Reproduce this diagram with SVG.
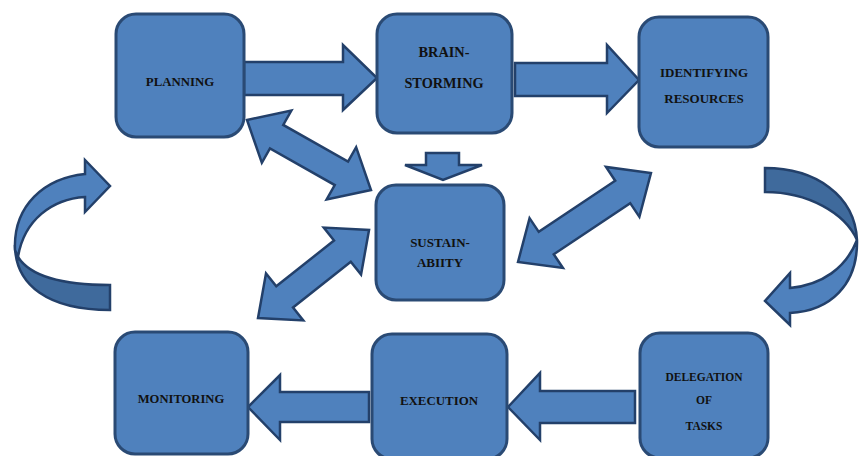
<svg xmlns="http://www.w3.org/2000/svg" width="859" height="456" viewBox="0 0 859 456">
<style>
.box{fill:#4f81bd;stroke:#2a4a74;stroke-width:3}
.arr{fill:#4f81bd;stroke:#23406a;stroke-width:2.5;stroke-linejoin:miter}
.dark{fill:#3f6a9c;stroke:#23406a;stroke-width:2.5}
text{font-family:"Liberation Serif","Times New Roman",serif;font-weight:bold;fill:#111;text-anchor:middle}
</style>
<defs>
<polygon id="dbl1" points="0,0 34,-30 34,-13.5 108.4,-13.5 108.4,-30 142.4,0 108.4,30 108.4,13.5 34,13.5 34,30"/>
<polygon id="dbl2" points="0,0 34,-30 34,-13.5 126,-13.5 126,-30 160,0 126,30 126,13.5 34,13.5 34,30"/>
<polygon id="dbl3" points="0,0 34,-30 34,-13.5 107.7,-13.5 107.7,-30 141.7,0 107.7,30 107.7,13.5 34,13.5 34,30"/>
</defs>
<rect width="859" height="456" fill="#fff"/>
<g id="connectors">
<polygon class="arr" points="244,62 343,62 343,45 377,78 343,110 343,95 244,95"/>
<polygon class="arr" points="515,63 607,63 607,45 639,80 607,113 607,96 515,96"/>
<polygon class="arr" points="426,153 459,153 459,165 482,165 443,180 405,165 426,165"/>
<polygon class="arr" points="635,391 540,391 540,373 508,407 540,440 540,423 635,423"/>
<polygon class="arr" points="369,392 280,392 280,375 248,407 280,440 280,422 369,422"/>
<use href="#dbl1" class="arr" transform="translate(247,120) rotate(29.45)"/>
<use href="#dbl2" class="arr" transform="translate(518,262) rotate(-33.8)"/>
<use href="#dbl3" class="arr" transform="translate(258,318) rotate(-38.4)"/>
<g id="curve-left">
<path class="dark" d="M18,257 C30,276 62,285 110,285 L110,310 C48,310 15,285 15,245 Z"/>
<path class="arr" d="M15,250 C13,205 45,178 85,174 L85,160 L110,186 L85,212 L85,197 C52,199 24,220 18,257 Z"/>
</g>
<g id="curve-right">
<path class="dark" d="M765,168 C815,168 855,195 857,240 C845,213 808,192 765,192 Z"/>
<path class="arr" d="M857,240 C858,285 830,311 790,313 L790,325 L765,301 L790,273 L790,288 C822,285 846,268 857,240 Z"/>
</g>
</g>
<g id="planning"><rect class="box" x="116" y="14" width="128" height="123" rx="20"/><text x="180" y="86" font-size="12.8">PLANNING</text></g>
<g id="brainstorming"><rect class="box" x="377" y="14" width="135" height="119" rx="20"/><text x="444" y="57" font-size="14.3">BRAIN-</text><text x="444" y="88" font-size="14.3">STORMING</text></g>
<g id="identifying"><rect class="box" x="639" y="17" width="129" height="130" rx="20"/><text x="704" y="77" font-size="13">IDENTIFYING</text><text x="704" y="103" font-size="13">RESOURCES</text></g>
<g id="sustainability"><rect class="box" x="376" y="185" width="128" height="115" rx="20"/><text x="440" y="247" font-size="13">SUSTAIN-</text><text x="440" y="267" font-size="13">ABIITY</text></g>
<g id="monitoring"><rect class="box" x="115" y="332" width="133" height="122" rx="20"/><text x="181" y="403" font-size="12.6">MONITORING</text></g>
<g id="execution"><rect class="box" x="372" y="334" width="135" height="125" rx="20"/><text x="439" y="405" font-size="12.9">EXECUTION</text></g>
<g id="delegation"><rect class="box" x="640" y="333" width="128" height="125" rx="20"/><text x="704" y="381" font-size="11.5">DELEGATION</text><text x="704" y="404" font-size="11.5">OF</text><text x="704" y="430" font-size="11.5">TASKS</text></g>
</svg>
